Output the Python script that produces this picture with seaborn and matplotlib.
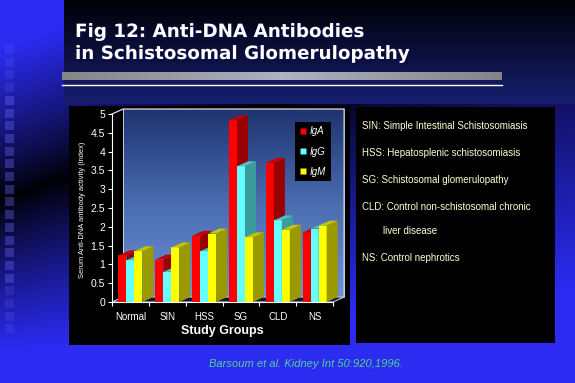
import numpy as np
import pandas as pd
import seaborn as sns
import matplotlib
matplotlib.use("Agg")
import matplotlib.pyplot as plt
from matplotlib.patches import Polygon, Rectangle
from matplotlib.lines import Line2D
import matplotlib.colors as mcolors
import matplotlib.patheffects as pe

# ---------------- data ----------------
groups = ["Normal", "SIN", "HSS", "SG", "CLD", "NS"]
series = ["IgA", "IgG", "IgM"]
iga = [1.24, 1.13, 1.76, 4.83, 3.70, 1.85]
igg = [1.11, 0.80, 1.35, 3.61, 2.17, 1.95]
igm = [1.35, 1.45, 1.82, 1.72, 1.92, 2.03]
yticks = [0, 0.5, 1, 1.5, 2, 2.5, 3, 3.5, 4, 4.5, 5]
ytick_labels = ["0", "0.5", "1", "1.5", "2", "2.5", "3", "3.5", "4", "4.5", "5"]
title_lines = ["Fig 12: Anti-DNA Antibodies", "in Schistosomal Glomerulopathy"]
ylabel = "Serum Anti-DNA antibody activity (index)"
xlabel = "Study Groups"
notes = ["SIN: Simple Intestinal Schistosomiasis",
         "HSS: Hepatosplenic schistosomiasis",
         "SG: Schistosomal glomerulopathy",
         "CLD: Control non-schistosomal chronic",
         "liver disease",
         "NS: Control nephrotics"]
citation = "Barsoum et al. Kidney Int 50:920,1996."

df = pd.DataFrame({
    "group": groups * 3,
    "Ig": sum([[s] * len(groups) for s in series], []),
    "value": iga + igg + igm,
})

front_cols = ["#ff0000", "#66ffff", "#ffff00"]
side_cols = ["#990000", "#3a9c9c", "#9a9a00"]
top_cols = ["#c40000", "#4cc4c4", "#c4c400"]

W, H = 575, 383
fig = plt.figure(figsize=(W / 100, H / 100), dpi=100)

# ---------------- slide background ----------------
bg = fig.add_axes([0, 0, 1, 1])
bg.set_xlim(0, W)
bg.set_ylim(H, 0)
bg.axis("off")

yy, xx = np.mgrid[0:H, 0:W].astype(float)
ridge = 200 - 0.36 * xx
d = yy - ridge
below = 150 + 0.25 * xx
t = np.where(d > 0, d / below, -d / 150.0)
t = np.clip(t, 0, 1) ** 0.9
base = np.array([43, 43, 236]) / 255.0
img = t[..., None] * base[None, None, :]
img = np.clip(img + np.array([0, 0, 0.02]), 0, 1)
bg.imshow(img, extent=(0, W, H, 0), aspect="auto", zorder=0, interpolation="bilinear")

# title panel
tg = np.linspace(0, 1, 100)[:, None]
tcol = np.array([0, 0, 0.02]) * (1 - tg[..., None]) + np.array([0.09, 0.12, 0.44]) * tg[..., None]
tcol = np.repeat(tcol, 10, axis=1)
bg.imshow(tcol, extent=(64, W, 104, 0), aspect="auto", zorder=1, interpolation="bilinear")

# checker squares on left strip
for i, yq in enumerate(np.arange(45, 335, 12.7)):
    a = 0.35 if 3 < i < 19 else 0.18
    bg.add_patch(Rectangle((5, yq), 9, 9, facecolor="#6a6aff", alpha=a, edgecolor="none", zorder=1))

# grey bar + white line
gx = np.linspace(-1, 1, 200)
gv = 1 - np.abs(gx)
gcol = np.array([0.52, 0.52, 0.53])[None, :] * (1 - gv[:, None]) + np.array([0.68, 0.70, 0.76])[None, :] * gv[:, None]
bg.imshow(gcol[None, :, :], extent=(62, 502, 80, 72), aspect="auto", zorder=2)
bg.plot([62, 502], [84.5, 84.5], color="white", lw=1, zorder=2)

# title text
for k, line in enumerate(title_lines):
    bg.text(75, 37 + 22 * k, line, color="white", fontsize=13.2, fontweight="bold",
            family="DejaVu Sans", va="baseline", ha="left", zorder=5,
            path_effects=[pe.SimplePatchShadow(offset=(1.6, -1.6), shadow_rgbFace="#0a0a40", alpha=1),
                          pe.Normal()])

# black boxes
bg.add_patch(Rectangle((69, 106), 281, 239, facecolor="black", edgecolor="none", zorder=2))
bg.add_patch(Rectangle((356, 107), 199, 236, facecolor="black", edgecolor="none", zorder=2))

# notes
note_y = [126, 153, 180, 207, 231, 258]
note_x = [362, 362, 362, 362, 383, 362]
for s, xn, yn in zip(notes, note_x, note_y):
    bg.text(xn, yn, s, color="#ffffcc", fontsize=7, family="Liberation Sans",
            va="center", ha="left", zorder=5)

bg.text(306, 364, citation, color="#4fd48a", fontsize=8, style="italic",
        family="Liberation Sans", va="center", ha="center", zorder=5)

bg.text(82, 210, ylabel, color="white", fontsize=5.4, rotation=90,
        family="Liberation Sans", va="center", ha="center", zorder=5)
bg.text(222, 331, xlabel, color="white", fontsize=9, fontweight="bold",
        family="Liberation Sans", va="center", ha="center", zorder=5)

# ---------------- chart ----------------
ax = fig.add_axes([112 / W, (H - 302) / H, (346 - 112) / W, (302 - 106.5) / H])
ax.patch.set_visible(False)
sns.barplot(data=df, x="group", y="value", hue="Ig", hue_order=series, order=groups,
            palette=front_cols, width=0.65, saturation=1, ax=ax, legend=False,
            edgecolor="none", linewidth=0)
bars = sorted([p for p in ax.patches if isinstance(p, Rectangle)], key=lambda p: p.get_x())

dx, dy = 0.30, 0.133
ax.set_xlim(-0.5, 5.85)
ax.set_ylim(0, 5.2)

# back wall with gradient
wall = np.linspace(0, 1, 256)[:, None]
wcmap = mcolors.LinearSegmentedColormap.from_list("w", ["#6d90d8", "#4a6cb0", "#1e3470"])
ax.imshow(wall[::-1], extent=(-0.5 + dx, 5.5 + dx, dy, 5 + dy), aspect="auto",
          cmap=wcmap, zorder=1, origin="upper")
# floor
ax.add_patch(Polygon([(-0.5, 0), (5.5, 0), (5.5 + dx, dy), (-0.5 + dx, dy)], closed=True,
                     facecolor="#0c1640", edgecolor="#c8c8c8", lw=0.8, zorder=1.5))
# wall outline
ax.plot([-0.5, -0.5 + dx, 5.5 + dx, 5.5 + dx], [5, 5 + dy, 5 + dy, dy],
        color="#e0e0e0", lw=0.9, zorder=1.6, clip_on=False)
ax.plot([-0.5 + dx, -0.5 + dx], [dy, 5 + dy], color="#e0e0e0", lw=0.6, zorder=1.6)

# 3D faces for bars
for rank, p in enumerate(bars):
    x0 = p.get_x()
    w = p.get_width()
    h = p.get_height()
    fc = mcolors.to_hex(p.get_facecolor())
    idx = [c.lower() for c in front_cols].index(fc.lower())
    z = 3 + rank * 0.01
    p.set_zorder(z)
    x1 = x0 + w
    side = Polygon([(x1, 0), (x1 + dx, dy), (x1 + dx, h + dy), (x1, h)], closed=True,
                   facecolor=side_cols[idx], edgecolor="none", zorder=z)
    top = Polygon([(x0, h), (x1, h), (x1 + dx, h + dy), (x0 + dx, h + dy)], closed=True,
                  facecolor=top_cols[idx], edgecolor="none", zorder=z)
    ax.add_patch(side)
    ax.add_patch(top)

ax.set_xlim(-0.5, 5.85)
ax.set_ylim(0, 5.2)

for s in ["top", "right"]:
    ax.spines[s].set_visible(False)
ax.spines["left"].set_bounds(0, 5)
ax.spines["bottom"].set_bounds(-0.5, 5.5)
ax.spines["left"].set_color("white")
ax.spines["bottom"].set_color("white")
ax.spines["left"].set_zorder(2)
ax.spines["bottom"].set_zorder(2)

ax.set_yticks(yticks)
ax.set_yticklabels(ytick_labels, family="Liberation Sans")
ax.set_xticks(range(len(groups)))
ax.set_xticklabels(groups, family="Liberation Sans")
ax.set_xticks(np.arange(-0.5, 5.6, 1), minor=True)
ax.tick_params(axis="y", colors="white", length=3, width=0.8, labelsize=7.5, pad=2)
ax.tick_params(axis="x", which="major", colors="white", length=0, labelsize=7, pad=7)
ax.tick_params(axis="x", which="minor", colors="white", length=3, width=0.8)
ax.set_xlabel("")
ax.set_ylabel("")

# legend
handles = [Line2D([], [], marker="s", linestyle="none", markersize=5,
                  markerfacecolor=c, markeredgecolor="none") for c in front_cols]
leg = fig.legend(handles, series, loc="upper left",
                 bbox_to_anchor=(295 / W, 1 - 122 / H), frameon=True,
                 facecolor="black", edgecolor="none", framealpha=1,
                 handlelength=0.8, handletextpad=0.3, labelspacing=1.05,
                 borderpad=0.45, borderaxespad=0, fancybox=False,
                 prop={"family": "Liberation Sans", "style": "italic", "size": 7})
for txt in leg.get_texts():
    txt.set_color("white")
leg.set_zorder(10)

fig.savefig("out.png", dpi=100)
